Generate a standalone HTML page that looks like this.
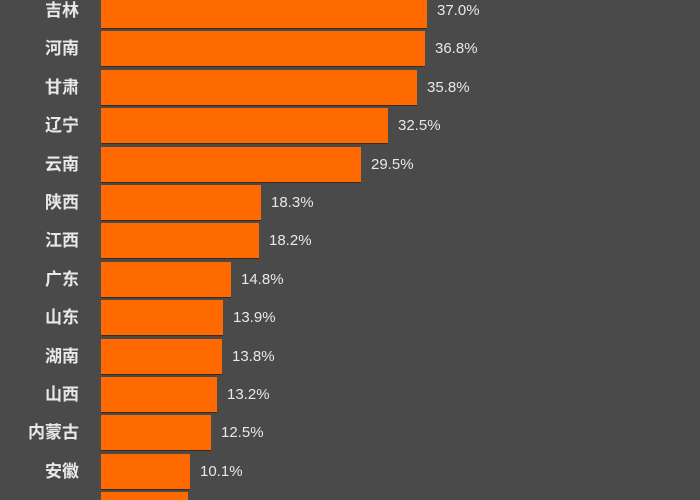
<!DOCTYPE html>
<html style="width:700px;height:500px;overflow:hidden"><head><meta charset="utf-8"><style>
html,body{margin:0;width:700px;height:500px;overflow:hidden}
body{background:#4a4a4a;position:relative;font-family:"Liberation Sans","Noto Sans CJK SC",sans-serif}
.l{position:absolute;right:621px;color:#e8e8e8;font-size:17px;font-weight:bold;line-height:35px;white-space:nowrap}
.b{position:absolute;left:101px;height:35px;background:#ff6a00;box-shadow:0 1px 0 #3a2a20}
.v{position:absolute;color:#e8e8e8;font-size:15px;line-height:35px}
</style></head><body>
<div id="c"></div>
<script>
var d=[["吉林",427,"37.0%"],["河南",425,"36.8%"],["甘肃",417,"35.8%"],["辽宁",388,"32.5%"],["云南",361,"29.5%"],["陕西",261,"18.3%"],["江西",259,"18.2%"],["广东",231,"14.8%"],["山东",223,"13.9%"],["湖南",222,"13.8%"],["山西",217,"13.2%"],["内蒙古",211,"12.5%"],["安徽",190,"10.1%"],["",188,""]];
var h="";
d.forEach(function(r,i){var t=Math.round(-7+38.4*i);
var hh=Math.min(35,500-t);
h+='<div class="l" style="top:'+t+'px">'+r[0]+'</div><div class="b" style="top:'+t+'px;height:'+hh+'px;width:'+(r[1]-101)+'px"></div><div class="v" style="top:'+t+'px;left:'+(r[1]+10)+'px">'+r[2]+'</div>';});
document.getElementById("c").innerHTML=h;
</script>
</body></html>
